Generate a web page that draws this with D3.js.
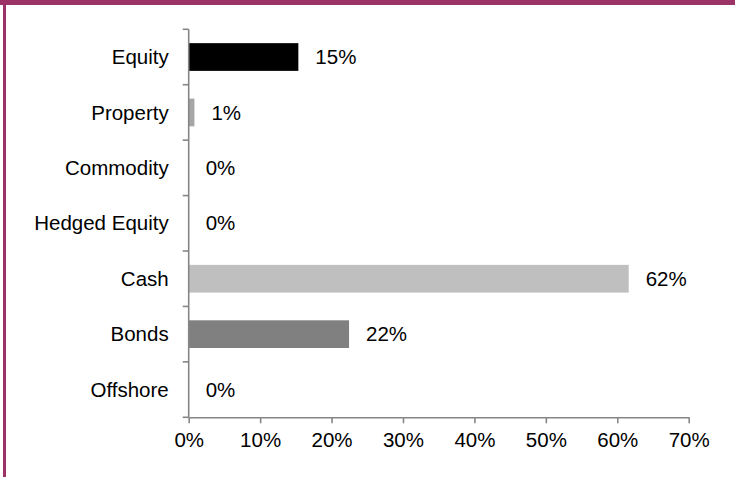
<!DOCTYPE html>
<html>
<head>
<meta charset="utf-8">
<script src="https://cdn.jsdelivr.net/npm/d3@7"></script>
<style>
  html, body { margin: 0; padding: 0; background: #fff; }
  svg { display: block; }
  text { font-family: "Liberation Sans", Arial, sans-serif; fill: #000; }
</style>
</head>
<body>
<svg id="chart" width="735" height="477"></svg>
<script>
const categories = ["Equity", "Property", "Commodity", "Hedged Equity", "Cash", "Bonds", "Offshore"];
const values = [15.35, 0.8, 0, 0, 61.6, 22.45, 0];
const barColors = ["#000000", "#a6a6a6", "#a6a6a6", "#a6a6a6", "#bfbfbf", "#808080", "#a6a6a6"];
const xTicks = [0, 10, 20, 30, 40, 50, 60, 70];

const svg = d3.select("#chart");
const W = 735, H = 477;
const fontSize = 20.5;
const axisColor = "#868686";

// frame
svg.append("rect").attr("x", 0).attr("y", 0).attr("width", W).attr("height", 5).attr("fill", "#9b3366");
svg.append("rect").attr("x", 3).attr("y", 0).attr("width", 3).attr("height", H).attr("fill", "#9b3366");

const x = d3.scaleLinear().domain([0, 70]).range([188.7, 688.7]);
const y = d3.scaleBand().domain(categories).range([29.3, 417.3]).paddingInner(0.5).paddingOuter(0.25);

// bars
svg.append("g").selectAll("rect").data(categories).join("rect")
  .attr("x", x(0))
  .attr("y", d => y(d))
  .attr("width", (d, i) => x(values[i]) - x(0))
  .attr("height", y.bandwidth())
  .attr("fill", (d, i) => barColors[i]);

// value labels
const fmt = d3.format(".0%");
svg.append("g").selectAll("text").data(categories).join("text")
  .attr("x", (d, i) => x(values[i]) + 17)
  .attr("y", d => y(d) + y.bandwidth() / 2)
  .attr("dy", "0.35em")
  .style("font-size", fontSize + "px")
  .text((d, i) => fmt(values[i] / 100));

// y axis
const yAxisG = svg.append("g");
yAxisG.append("line")
  .attr("x1", x(0)).attr("x2", x(0))
  .attr("y1", y.range()[0]).attr("y2", y.range()[1])
  .attr("stroke", axisColor).attr("stroke-width", 1.6);
const bounds = d3.range(categories.length + 1).map(i => y.range()[0] + i * y.step());
yAxisG.selectAll("line.tick").data(bounds).join("line")
  .attr("class", "tick")
  .attr("x1", x(0) - 6).attr("x2", x(0))
  .attr("y1", d => d).attr("y2", d => d)
  .attr("stroke", axisColor).attr("stroke-width", 1.6);
yAxisG.selectAll("text").data(categories).join("text")
  .attr("x", x(0) - 20)
  .attr("y", d => y(d) + y.bandwidth() / 2)
  .attr("dy", "0.35em")
  .attr("text-anchor", "end")
  .style("font-size", fontSize + "px")
  .text(d => d);

// x axis
const xAxis = d3.axisBottom(x).tickValues(xTicks).tickFormat(d => d + "%").tickSize(6).tickSizeOuter(0).tickPadding(9);
const xg = svg.append("g").attr("transform", `translate(0,${y.range()[1]})`).call(xAxis);
xg.select(".domain").attr("stroke", axisColor).attr("stroke-width", 1.6);
xg.selectAll(".tick line").attr("stroke", axisColor).attr("stroke-width", 1.6);
xg.selectAll(".tick text")
  .style("font-size", fontSize + "px")
  .style("font-family", "'Liberation Sans', Arial, sans-serif")
  .attr("fill", "#000");
</script>
</body>
</html>
